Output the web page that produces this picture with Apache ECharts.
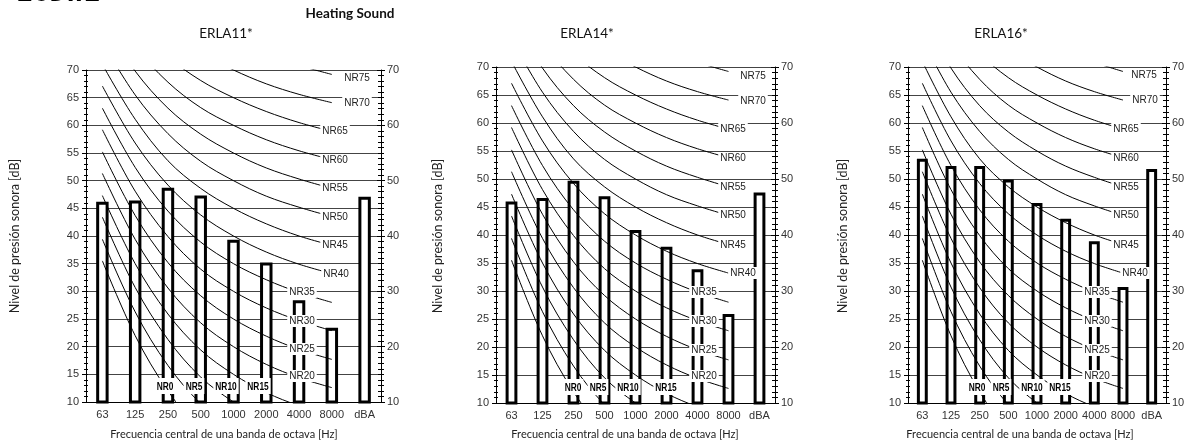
<!DOCTYPE html>
<html><head><meta charset="utf-8">
<script src="https://cdn.jsdelivr.net/npm/echarts@6/dist/echarts.min.js"></script>
<style>html,body{margin:0;padding:0;background:#fff}#c{width:1187px;height:446px}</style>
</head><body><div id="c"></div>
<script>
// ---------- data ----------
const categories = ['63','125','250','500','1000','2000','4000','8000','dBA'];
const panelTitles = ['ERLA11*','ERLA14*','ERLA16*'];
const leftTicks = [10,15,20,25,30,35,40,45,50,55,60,65,70];
const rightTicks = [10,20,30,40,50,60,70];
const erla11 = [46.2,46.4,48.7,47.3,39.3,35.2,28.4,23.4,47.1];
const erla14 = [46.0,46.6,49.7,46.9,40.9,37.9,33.9,25.9,47.6];
const erla16 = [53.6,52.3,52.3,49.9,45.7,42.9,38.9,30.7,51.8];
// NR curves (63 ... 8000 Hz)
const nr0  = [35.5,22.0,12.0, 4.8, 0.0,-3.5,-6.1,-8.0];
const nr5  = [39.4,26.3,16.6, 9.7, 5.0, 1.6,-1.0,-2.8];
const nr10 = [43.4,30.7,21.3,14.5,10.0, 6.6, 4.2, 2.3];
const nr15 = [47.3,35.0,25.9,19.4,15.0,11.7, 9.3, 7.4];
const nr20 = [51.3,39.4,30.6,24.3,20.0,16.8,14.4,12.6];
const nr25 = [55.2,43.7,35.2,29.2,25.0,21.9,19.5,17.7];
const nr30 = [59.2,48.1,39.9,34.0,30.0,27.0,24.7,22.9];
const nr35 = [63.1,52.4,44.5,38.9,35.0,32.1,29.8,28.0];
const nr40 = [67.1,56.8,49.2,43.8,40.0,37.1,34.9,33.2];
const nr45 = [71.0,61.1,53.6,48.6,45.0,42.2,40.0,38.3];
const nr50 = [75.0,65.5,58.5,53.5,50.0,47.2,45.2,43.5];
const nr55 = [78.9,69.8,63.1,58.4,55.0,52.3,50.3,48.6];
const nr60 = [82.9,74.2,67.8,63.2,60.0,57.4,55.4,53.8];
const nr65 = [86.8,78.5,72.4,68.1,65.0,62.5,60.5,58.9];
const nr70 = [90.8,82.9,77.1,73.0,70.0,67.5,65.6,64.1];
const nr75 = [94.7,87.2,81.7,77.9,75.0,72.6,70.8,69.2];
const nrNames = ['NR0','NR5','NR10','NR15','NR20','NR25','NR30','NR35','NR40','NR45','NR50','NR55','NR60','NR65','NR70','NR75'];
const nrLowLabelLevel = 12.9;

// ---------- layout ----------
const panelValues = [erla11, erla14, erla16];
const nrCurves = [nr0,nr5,nr10,nr15,nr20,nr25,nr30,nr35,nr40,nr45,nr50,nr55,nr60,nr65,nr70,nr75];
const grids = [
  {left:86, top:70, width:295, height:332},
  {left:496, top:67, width:279, height:336},
  {left:908, top:67, width:258, height:336}
];
const labelDx = [
  [-3,-7,-7,-8, 3,3,3,3, 4, 3,3,3,3,3, 25,25],
  [-1,-7,-8,-1, 6,6,6,6, 14, 4,4,4,4,4, 24,24],
  [-3,-7,-5,-6, 3,3,3,3, 12, 3,3,3,3,3, 22,21]
];
const labelDy = [
  [0,0,0,0, -2,0,0,0, 0, 0,0,0,0,0, 0,4],
  [0,0,0,0, -2,0,0,0, 0, 0,0,0,0,0, 1,5],
  [0,0,0,0, -2,0,0,0, 0, 0,0,0,0,0, 0,4]
];
const titleX = [226, 587, 1001];
const yTitleX = [15, 438, 843];
const xTitleX = [224, 625, 1020];

const axisFont = '"Liberation Sans", Arial, sans-serif';
const textFont = 'Lato, "Open Sans", sans-serif';
const nrFont = '10px ' + axisFont;
const nrLowFont = 'bold 11px ' + axisFont;
const nrLowScale = 0.76;

const mctx = document.createElement('canvas').getContext('2d');
function textW(font, s) { mctx.font = font; return mctx.measureText(s).width; }

const xAxis = [], yAxis = [], series = [], graphic = [];
grids.forEach((g, i) => {
  g.containLabel = false; g.outerBoundsMode = 'none';
  xAxis.push({
    type:'category', gridIndex:i, data:categories, boundaryGap:true,
    axisLine:{show:true, lineStyle:{color:'#000', width:1}},
    axisTick:{show:false},
    axisLabel:{interval:0, fontSize:11, color:'#333', fontFamily:axisFont, margin:7},
    splitLine:{show:false}
  });
  const base = i*4;
  const lmin = leftTicks[0], lmax = leftTicks[leftTicks.length-1], lint = leftTicks[1]-leftTicks[0];
  const rmin = rightTicks[0], rmax = rightTicks[rightTicks.length-1], rint = rightTicks[1]-rightTicks[0];
  yAxis.push({
    type:'value', gridIndex:i, position:'left', min:lmin, max:lmax, interval:lint,
    axisLine:{show:true, lineStyle:{color:'#000', width:1}},
    axisTick:{show:true, inside:false, length:4, lineStyle:{color:'#000'}},
    minorTick:{show:true, splitNumber:5, length:2, lineStyle:{color:'#000'}},
    axisLabel:{fontSize:11, color:'#333', fontFamily:axisFont, margin:7},
    splitLine:{show:true, lineStyle:{color:'#444', width:1}}
  });
  yAxis.push({
    type:'value', gridIndex:i, position:'left', offset:0, min:lmin, max:lmax, interval:lint,
    axisLine:{show:false},
    axisTick:{show:true, inside:true, length:2, lineStyle:{color:'#000'}},
    minorTick:{show:true, splitNumber:5, length:2, lineStyle:{color:'#000'}},
    axisLabel:{show:false}, splitLine:{show:false}
  });
  yAxis.push({
    type:'value', gridIndex:i, position:'right', min:rmin, max:rmax, interval:rint,
    axisLine:{show:true, lineStyle:{color:'#000', width:1}},
    axisTick:{show:true, inside:false, length:4, lineStyle:{color:'#000'}},
    minorTick:{show:true, splitNumber:10, length:3, lineStyle:{color:'#000'}},
    axisLabel:{fontSize:11, color:'#333', fontFamily:axisFont, margin:6},
    splitLine:{show:false}
  });
  yAxis.push({
    type:'value', gridIndex:i, position:'right', offset:0, min:rmin, max:rmax, interval:rint,
    axisLine:{show:false},
    axisTick:{show:true, inside:true, length:4, lineStyle:{color:'#000'}},
    minorTick:{show:true, splitNumber:10, length:3, lineStyle:{color:'#000'}},
    axisLabel:{show:false}, splitLine:{show:false}
  });

  series.push({
    type:'bar', xAxisIndex:i, yAxisIndex:base, data:panelValues[i], barWidth:'38%', z:2, silent:true,
    itemStyle:{color:'#fff', borderColor:'#000', borderWidth:3}
  });
  nrCurves.forEach((c) => {
    series.push({
      type:'line', xAxisIndex:i, yAxisIndex:base, data:c, smooth:0.35, symbol:'none', z:3, silent:true,
      lineStyle:{color:'#000', width:1}
    });
  });
  const items = nrCurves.map((c, k) => {
    const low = k < 4;
    let idx, val;
    if (low) { idx = [2,3,4,5][k]; val = nrLowLabelLevel; }
    else if (k < 8) { idx = 6; val = c[6]; }
    else { idx = 7; val = c[7]; }
    const font = low ? nrLowFont : nrFont;
    const sx = low ? nrLowScale : 1;
    const tw = textW(font, nrNames[k]) * sx;
    return {
      value:[idx, val], name:nrNames[k], font:font, sx:sx,
      w: tw + 4, h: low ? 16 : 12,
      color: low ? '#000' : '#222',
      dx: labelDx[i][k], dy: labelDy[i][k]
    };
  });
  series.push({
    type:'custom', xAxisIndex:i, yAxisIndex:base, z:5, silent:true, clip:false,
    data: items.map(d => d.value),
    renderItem: (params, api) => {
      const d = items[params.dataIndex];
      const p = api.coord([api.value(0), api.value(1)]);
      const cx = Math.round(p[0] + d.dx), cy = Math.round(p[1] + d.dy);
      return {type:'group', children:[
        {type:'rect', shape:{x:cx - d.w/2, y:cy - d.h/2, width:d.w, height:d.h}, style:{fill:'#fff'}},
        {type:'text', x:cx, y:cy + 0.5, scaleX:d.sx, style:{text:d.name, font:d.font, fill:d.color, align:'center', verticalAlign:'middle'}}
      ]};
    }
  });

  graphic.push({type:'text', x:titleX[i], y:34, style:{text:panelTitles[i], font:'13.5px ' + textFont, fill:'#111', textAlign:'center', textVerticalAlign:'middle'}});
  graphic.push({type:'text', x:yTitleX[i], y:236, rotation:Math.PI/2, style:{text:'Nivel de presión sonora [dB]', font:'12.5px ' + textFont, fill:'#222', textAlign:'center', textVerticalAlign:'middle'}});
  graphic.push({type:'text', x:xTitleX[i], y:434, style:{text:'Frecuencia central de una banda de octava [Hz]', font:'11px ' + textFont, fill:'#222', textAlign:'center', textVerticalAlign:'middle'}});
});
graphic.push({type:'text', x:350, y:14, style:{text:'Heating Sound', font:'bold 13.5px ' + textFont, fill:'#111', textAlign:'center', textVerticalAlign:'middle'}});
graphic.push({type:'text', x:100, y:8, style:{text:'ERLA11-16DW1', font:'bold 28px "DejaVu Sans Mono", monospace', fill:'#000', textAlign:'right', textVerticalAlign:'bottom'}});

const chart = echarts.init(document.getElementById('c'), null, {renderer:'canvas'});
chart.setOption({
  animation:false,
  backgroundColor:'#fff',
  grid:grids, xAxis:xAxis, yAxis:yAxis, series:series, graphic:graphic
});
</script></body></html>
